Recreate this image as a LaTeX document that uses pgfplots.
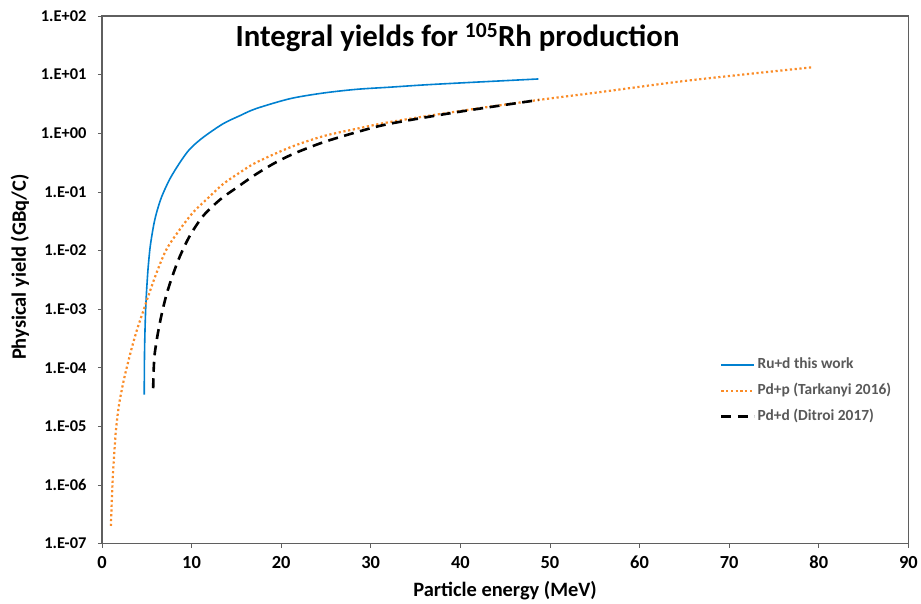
\documentclass[border=0pt]{standalone}
\usepackage{fontspec}
\setmainfont{Carlito}
\usepackage{pgfplots}
\pgfplotsset{compat=1.18}
\definecolor{rublue}{RGB}{0,128,208}
\definecolor{pdorange}{RGB}{250,140,40}
\definecolor{framegray}{RGB}{95,95,95}
\definecolor{legtext}{RGB}{89,89,89}

% Integral yield of 105Rh (GBq/C) vs particle energy (MeV)
\pgfplotstableread{
E      Y
4.72   3.47e-5
4.75   1.585e-4
4.80   3.98e-4
4.87   8.91e-4
4.96   1.78e-3
5.07   3.31e-3
5.17   5.37e-3
5.39   1.175e-2
5.76   2.63e-2
6.09   4.37e-2
6.65   8.13e-2
7.58   0.166
8.70   0.316
9.81   0.537
11.3   0.851
13.5   1.445
15.4   1.995
17.2   2.63
21.0   3.89
24.7   4.85
28.4   5.61
32.1   6.10
36.0   6.68
40.0   7.21
44.5   7.82
48.7   8.43
}\rud

\pgfplotstableread{
E      Y
1.00   2.00e-7
1.08   4.37e-7
1.15   8.32e-7
1.26   1.82e-6
1.37   3.31e-6
1.52   7.24e-6
1.71   1.38e-5
1.90   2.29e-5
2.12   3.55e-5
2.56   7.41e-5
3.30   2.09e-4
3.90   4.37e-4
4.42   7.59e-4
5.17   1.66e-3
6.10   4.17e-3
7.21   1.05e-2
8.70   2.29e-2
10.18  4.47e-2
11.67  7.41e-2
13.5   0.135
15.4   0.214
17.2   0.316
21.0   0.575
24.7   0.891
28.4   1.19
32.1   1.55
40.0   2.40
48.75  3.70
55.5   5.01
64.4   7.59
72.0   10.2
79.2   13.3
}\pdp

\pgfplotstableread{
E      Y
5.72   4.47e-5
5.76   7.94e-5
5.82   1.26e-4
5.90   1.78e-4
6.20   3.55e-4
6.65   7.94e-4
7.21   1.78e-3
7.95   3.98e-3
8.70   7.94e-3
9.81   1.78e-2
11.3   3.89e-2
13.2   7.41e-2
15.0   0.117
17.2   0.200
19.5   0.324
21.7   0.468
24.7   0.701
28.4   1.04
32.1   1.45
40.0   2.34
48.75  3.70
}\pdd

\begin{document}
\begin{tikzpicture}
\begin{axis}[
  scale only axis,
  width=807bp, height=528bp,
  xmin=0, xmax=90, ymin=1e-7, ymax=1e2,
  ymode=log,
  xtick={0,10,...,90},
  ytick={1e-7,1e-6,1e-5,1e-4,1e-3,1e-2,1e-1,1,10,100},
  yticklabels={1.E-07,1.E-06,1.E-05,1.E-04,1.E-03,1.E-02,1.E-01,1.E+00,1.E+01,1.E+02},
  yminorticks=false,
  tick align=outside,
  xtick pos=bottom, ytick pos=left,
  major tick length=4bp,
  tick style={framegray, line width=0.6bp},
  axis line style={framegray, line width=1.3bp},
  yticklabel style={font=\bfseries\fontsize{16.5}{16.5}\selectfont, xshift=-8bp},
  xticklabel style={font=\bfseries\fontsize{18.5}{18.5}\selectfont, yshift=-5bp},
  /pgf/number format/assume math mode=true,
  xlabel={Particle energy (MeV)},
  ylabel={Physical yield (GBq/C)},
  label style={font=\bfseries\fontsize{20.5}{20.5}\selectfont},
  xlabel style={at={(axis description cs:0.5,-0.089)}, anchor=center},
  ylabel style={at={(axis description cs:-0.1016,0.524)}, anchor=center},
  legend cell align=left,
  legend style={draw=none, fill=none,
    at={(axis description cs:0.7625,0.361)}, anchor=north west,
    font=\bfseries\fontsize{15.5}{16}\selectfont, text=legtext,
    nodes={text height=11bp, text depth=4bp},
    row sep=7bp},
  legend image code/.code={\draw[#1] (0bp,0bp) -- (33bp,0bp);},
]
\addplot[rublue, line width=1.6bp, smooth, tension=0.5] table[x=E, y=Y] {\rud};
\addlegendentry{Ru+d this work}
\addplot[pdorange, line width=2.2bp, dash pattern=on 2.2bp off 2.6bp, smooth, tension=0.5] table[x=E, y=Y] {\pdp};
\addlegendentry{Pd+p (Tarkanyi 2016)}
\addplot[black, line width=2.6bp, dash pattern=on 10bp off 6.5bp, smooth, tension=0.5] table[x=E, y=Y] {\pdd};
\addlegendentry{Pd+d (Ditroi 2017)}
\node[font=\bfseries\fontsize{30.9}{31}\selectfont, anchor=center]
  at (axis description cs:0.441,0.960)
  {Integral yields for \textsuperscript{105}Rh production};
\end{axis}
\path[use as bounding box] (-102bp,-60bp) rectangle (819bp,544bp);
\end{tikzpicture}
\end{document}
